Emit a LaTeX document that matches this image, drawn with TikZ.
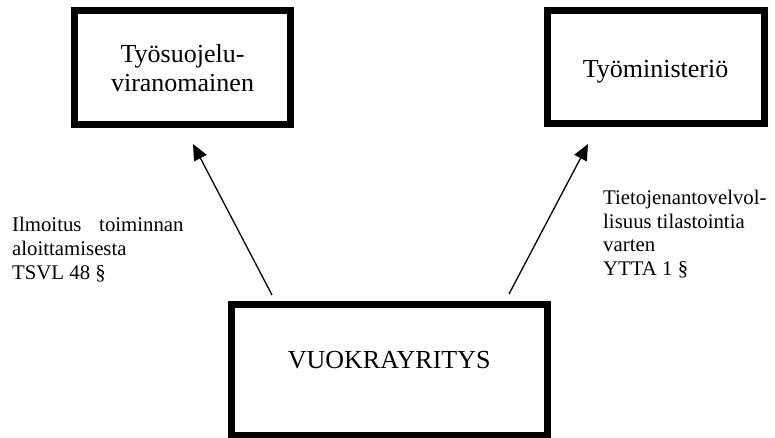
\documentclass[tikz,border=0pt]{standalone}
\usepackage{fontspec}
\setmainfont{Liberation Serif}
\usetikzlibrary{arrows.meta}
\begin{document}
\begin{tikzpicture}[x=1pt,y=-1pt,
  box/.style={draw=black, line width=7pt, rectangle, inner sep=0pt, align=center,
    font=\fontsize{26}{28.5}\selectfont},
  lbl/.style={inner sep=0pt, align=left, anchor=north west,
    font=\fontsize{20.8}{24}\selectfont},
  arr/.style={-{Triangle[length=16pt,width=14pt]}, line width=1.3pt}]
\useasboundingbox (0,0) rectangle (775,438);
\node[box, minimum width=216pt, minimum height=114pt] (tsv) at (182.5,68) {Työsuojelu-\\viranomainen};
\node[box, minimum width=217pt, minimum height=113pt, text height=25pt] (tm) at (655.5,67.5) {Työministeriö};
\node[box, minimum width=316.5pt, minimum height=130.5pt, text depth=20pt] (vr) at (389.25,369.75) {VUOKRAYRITYS};
\node[lbl] (lab1) at (12,217) {Ilmoitus\hspace{0.85em}toiminnan\\aloittamisesta\\TSVL 48 §};
\node[lbl, font=\fontsize{20.8}{23.5}\selectfont] (lab2) at (603,190) {Tietojenantovelvol-\\lisuus tilastointia\\varten\\YTTA 1 §};
\coordinate (a1) at (272,295);
\coordinate (a2) at (193,144);
\coordinate (b1) at (509,294);
\coordinate (b2) at (588,144);
\draw[arr] (a1) -- (a2);
\draw[arr] (b1) -- (b2);
\end{tikzpicture}
\end{document}
